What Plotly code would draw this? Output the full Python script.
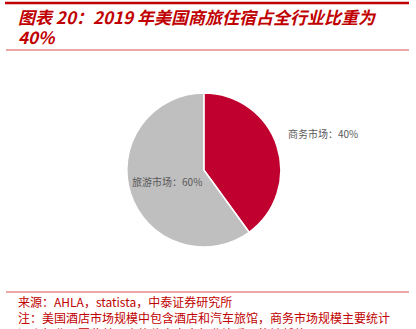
import plotly.graph_objects as go

labels = ["商务市场", "旅游市场"]
values = [40, 60]
colors = ["#C0002F", "#BFBFBF"]
text_positions = ["none", "inside"]

title_lines = ["图表 20：2019 年美国商旅住宿占全行业比重为", "40%"]
source_lines = [
    "来源：AHLA，statista，中泰证券研究所",
    "注：美国酒店市场规模中包含酒店和汽车旅馆，商务市场规模主要统计",
    "酒店行业，因此美国商旅住宿占全行业比重可能被低估",
]

W, H = 416, 329
RED = "#C00000"
LABEL_FONT = dict(family="Noto Sans CJK SC", size=10, color="#595959")

fig = go.Figure(go.Pie(
    labels=labels,
    values=values,
    sort=False,
    direction="clockwise",
    rotation=0,
    marker=dict(colors=colors, line=dict(color="white", width=1.5)),
    texttemplate="%{label}：%{value}%",
    textposition=text_positions,
    insidetextorientation="horizontal",
    textfont=LABEL_FONT,
    insidetextfont=LABEL_FONT,
    showlegend=False,
    hoverinfo="skip",
    domain=dict(x=[0.2, 0.78], y=[0.2493, 0.7173]),
))

shapes = [
    dict(type="line", xref="paper", yref="paper", x0=5/W, x1=409/W, y0=1-3/H, y1=1-3/H,
         line=dict(color=RED, width=2.5)),
    dict(type="line", xref="paper", yref="paper", x0=6/W, x1=409/W, y0=1-50/H, y1=1-50/H,
         line=dict(color="#D9534F", width=1)),
    dict(type="line", xref="paper", yref="paper", x0=6/W, x1=409/W, y0=1-292/H, y1=1-292/H,
         line=dict(color="#D9534F", width=1)),
]

annotations = [dict(
    text=f"{labels[0]}：{values[0]}%", xref="paper", yref="paper",
    x=286/W, y=1-133/H, xanchor="left", yanchor="middle", showarrow=False,
    font=LABEL_FONT)]
for i, t in enumerate(title_lines):
    annotations.append(dict(
        text="<b><i>" + t + "</i></b>", xref="paper", yref="paper",
        x=16/W, y=1-(17+19.5*i)/H, xanchor="left", yanchor="middle", showarrow=False,
        height=19, font=dict(family="Noto Sans CJK SC", size=17, color=RED)))
for i, t in enumerate(source_lines):
    annotations.append(dict(
        text=t, xref="paper", yref="paper",
        x=16/W, y=1-(301+16*i)/H, xanchor="left", yanchor="middle", showarrow=False,
        height=16, font=dict(family="Noto Sans CJK SC", size=12, color=RED)))

fig.update_layout(
    width=W, height=H,
    margin=dict(l=0, r=0, t=0, b=0),
    paper_bgcolor="white", plot_bgcolor="white",
    shapes=shapes, annotations=annotations,
)

fig.write_html("out.html")
